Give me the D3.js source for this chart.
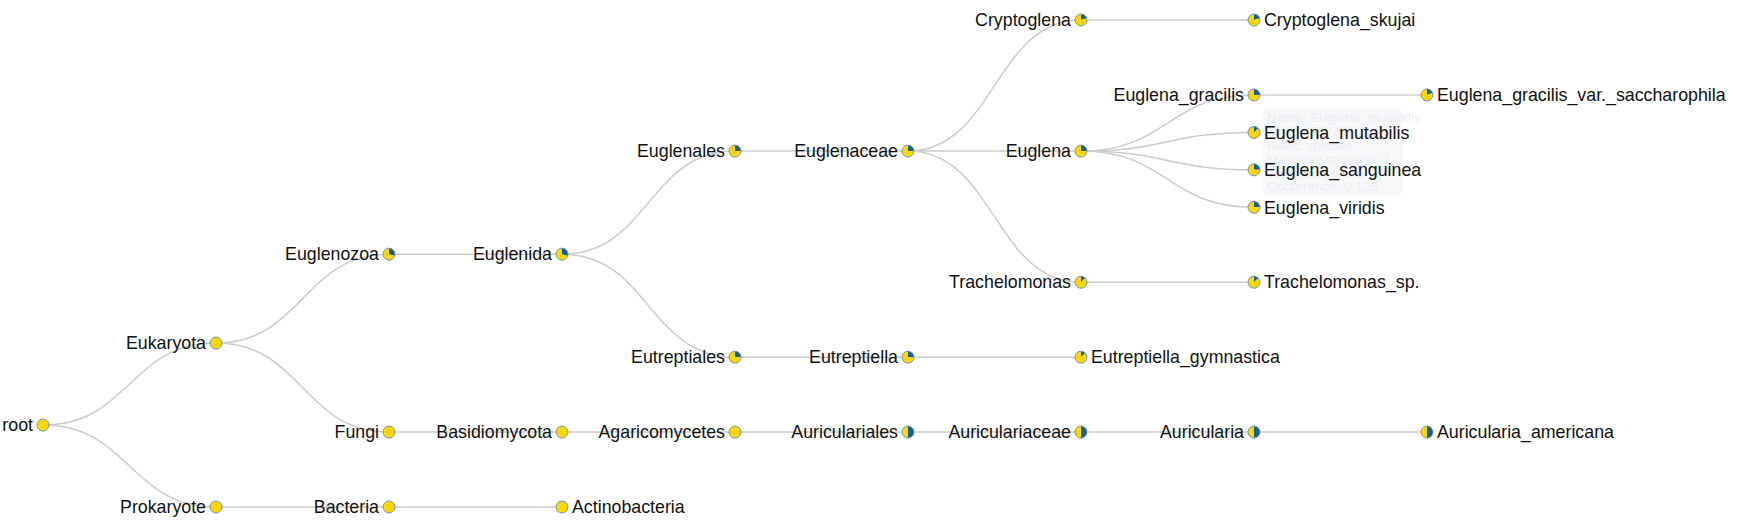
<!DOCTYPE html>
<html>
<head>
<meta charset="utf-8">
<script src="https://cdn.jsdelivr.net/npm/d3@7"></script>
<style>
  body { margin: 0; background: #fff; }
  .link { fill: none; stroke: #ccc; stroke-width: 1.5px; }
  .label { font-family: "Liberation Sans", Arial, sans-serif; font-size: 17.8px; fill: #111; }
  .tip { font-family: "Liberation Sans", Arial, sans-serif; font-size: 13.5px; fill: #eceef2; }
</style>
</head>
<body>
<div id="tree"></div>
<script>
// taxa, their parents and share of matching samples (blue slice)
var taxa = ['root','Eukaryota','Euglenozoa','Euglenida','Euglenales','Euglenaceae',
  'Cryptoglena','Cryptoglena_skujai','Euglena','Euglena_gracilis','Euglena_gracilis_var._saccharophila',
  'Euglena_mutabilis','Euglena_sanguinea','Euglena_viridis','Trachelomonas','Trachelomonas_sp.',
  'Eutreptiales','Eutreptiella','Eutreptiella_gymnastica',
  'Fungi','Basidiomycota','Agaricomycetes','Auriculariales','Auriculariaceae','Auricularia','Auricularia_americana',
  'Prokaryote','Bacteria','Actinobacteria']
var parents = ['','root','Eukaryota','Euglenozoa','Euglenida','Euglenales',
  'Euglenaceae','Cryptoglena','Euglenaceae','Euglena','Euglena_gracilis',
  'Euglena','Euglena','Euglena','Euglenaceae','Trachelomonas',
  'Euglenida','Eutreptiales','Eutreptiella',
  'Eukaryota','Fungi','Basidiomycota','Agaricomycetes','Auriculariales','Auriculariaceae','Auricularia',
  'root','Prokaryote','Bacteria']
var occurrence = [0,0,0.3,0.3,0.25,0.25,
  0.2,0.2,0.25,0.25,0.2,
  0.125,0.25,0.25,0.125,0.125,
  0.25,0.25,0.125,
  0,0,0,0.5,0.5,0.5,0.5,
  0,0,0]
var tipTaxon = 'Euglena_mutabilis'
var tipLines = ['Name: Euglena_mutabilis','TaxID: 38275','Rank: species','Matching samples: 1','Total samples: 8','Occurrence: 0.125']

var width = 1738, height = 520
var svg = d3.select('#tree').append('svg')
  .attr('width', width)
  .attr('height', height)

var rows = taxa.map(function(t, i){ return {name: t, parent: parents[i], occ: occurrence[i]} })
var root = d3.stratify()
  .id(function(d){ return d.name })
  .parentId(function(d){ return d.parent || null })(rows)

d3.tree().nodeSize([1, 1])(root)

var nodes = root.descendants()
var xScale = d3.scaleLinear().domain([0, root.height]).range([43, 1427])
var yScale = d3.scaleLinear().domain(d3.extent(nodes, function(d){ return d.x })).range([20, 507])

// faded tooltip left over from a hover
var tipNode = nodes.find(function(d){ return d.id == tipTaxon })
var tip = svg.append('g')
  .attr('transform', 'translate(' + (xScale(tipNode.y) + 9) + ',' + (yScale(tipNode.x) - 25) + ')')
tip.append('rect')
  .attr('width', 140).attr('height', 89)
  .attr('rx', 6)
  .attr('fill', '#f7f8fa')
tip.selectAll('text').data(tipLines).enter().append('text')
  .attr('class', 'tip')
  .attr('x', 4)
  .attr('y', function(d, i){ return 15 + i * 13.8 })
  .text(function(d){ return d })

var link = d3.linkHorizontal()
  .x(function(d){ return xScale(d.y) })
  .y(function(d){ return yScale(d.x) })

svg.append('g').selectAll('path')
  .data(root.links())
  .enter().append('path')
  .attr('class', 'link')
  .attr('d', link)

var pie = d3.pie().sort(null).value(function(d){ return d })
var arc = d3.arc().innerRadius(0).outerRadius(6)

var node = svg.append('g').selectAll('g')
  .data(nodes)
  .enter().append('g')
  .attr('transform', function(d){ return 'translate(' + xScale(d.y) + ',' + yScale(d.x) + ')' })

node.selectAll('path')
  .data(function(d){ return pie([d.data.occ, 1 - d.data.occ]) })
  .enter().append('path')
  .attr('d', arc)
  .attr('fill', function(d, i){ return i == 0 ? '#145f8e' : '#ffd700' })

node.append('circle')
  .attr('r', 6)
  .attr('fill', 'none')
  .attr('stroke', '#6e95b8')
  .attr('stroke-width', 1)

node.append('text')
  .attr('class', 'label')
  .attr('dy', '0.35em')
  .attr('x', function(d){ return d.children ? -10 : 10 })
  .attr('text-anchor', function(d){ return d.children ? 'end' : 'start' })
  .text(function(d){ return d.id })
</script>
</body>
</html>
